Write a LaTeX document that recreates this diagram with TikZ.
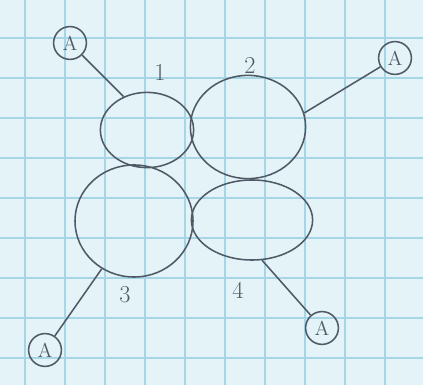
\documentclass[tikz,border=0pt]{standalone}
\usetikzlibrary{shapes.geometric}

\definecolor{papel}{HTML}{E4F3F8}
\definecolor{cuadricula}{HTML}{A6D6E6}
\definecolor{lapiz}{HTML}{4F5A66}

\tikzset{
  burbuja/.style={ellipse, draw=lapiz, line width=1.1pt, inner sep=0pt},
  atomo/.style={circle, draw=lapiz, line width=1.1pt, minimum size=0.82cm,
    inner sep=0pt, text=lapiz, font=\Large},
  enlace/.style={draw=lapiz, line width=1.1pt},
  etiqueta/.style={text=lapiz, font=\LARGE}
}

\begin{document}
\begin{tikzpicture}[x=0.025cm, y=-0.025cm]

  % Papel cuadriculado
  \fill[papel] (0,0) rectangle (423,385);
  \useasboundingbox (0,0) rectangle (423,385);
  \foreach \x in {25,65,...,425}
    \draw[cuadricula, line width=1.2pt] (\x,0) -- (\x,385);
  \foreach \y in {38,78,...,385}
    \draw[cuadricula, line width=1.2pt] (0,\y) -- (423,\y);

  % Burbujas
  \node[burbuja, minimum width=2.33cm, minimum height=1.88cm]
    (b1) at (147,130) {};
  \node[burbuja, minimum width=2.88cm, minimum height=2.58cm]
    (b2) at (248,127) {};
  \node[burbuja, minimum width=2.95cm, minimum height=2.8cm]
    (b3) at (134,221) {};
  \node[burbuja, minimum width=3.03cm, minimum height=2.0cm]
    (b4) at (252,220) {};

  % Etiquetas
  \node[etiqueta] (l1) at (160,72) {1};
  \node[etiqueta] (l2) at (250,65) {2};
  \node[etiqueta] (l3) at (125,295) {3};
  \node[etiqueta] (l4) at (238,290) {4};

  % Atomos A
  \node[atomo] (a1) at (70,43) {A};
  \node[atomo] (a2) at (395,58) {A};
  \node[atomo] (a3) at (45,350) {A};
  \node[atomo] (a4) at (322,328) {A};

  % Enlaces
  \draw[enlace] (a1) -- (b1.125);
  \draw[enlace] (a2) -- (b2.14);
  \draw[enlace] (a3) -- (b3.236);
  \draw[enlace] (a4) -- (b4.284);

\end{tikzpicture}
\end{document}
